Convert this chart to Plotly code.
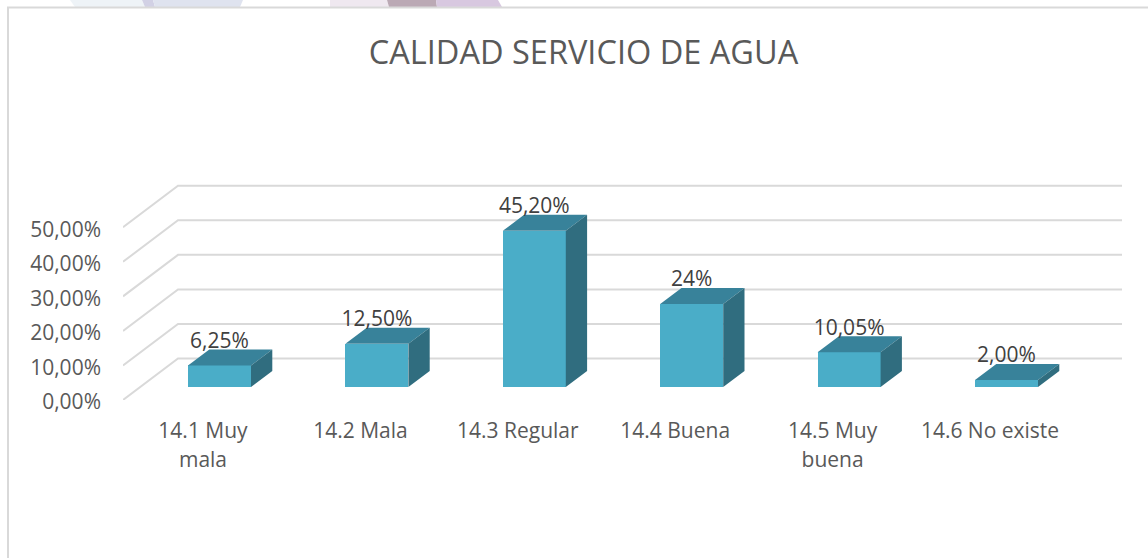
import plotly.graph_objects as go

categories = ["14.1 Muy|mala", "14.2 Mala", "14.3 Regular", "14.4 Buena", "14.5 Muy|buena", "14.6 No existe"]
values = [6.25, 12.5, 45.2, 24, 10.05, 2]
value_labels = ["6,25%", "12,50%", "45,20%", "24%", "10,05%", "2,00%"]
grid_values = [0, 10, 20, 30, 40, 50]
grid_labels = ["0,00%", "10,00%", "20,00%", "30,00%", "40,00%", "50,00%"]

W, H = 1148, 558
L, R, T, B = 123, 1122, 100, 400
PX_X = 157.4       # pixels per category
PX_Y = 3.455       # pixels per percentage point
XR = [(L - 203) / PX_X, (R - 203) / PX_X]
YR = [0, (B - T) / PX_Y]

FRONT, TOP_C, SIDE = "#4AADC8", "#38829A", "#306D7F"
GRID = "#D9D9D9"
TXT, LBL = "#595959", "#404040"
FS = 21

# 3-D projection, expressed in axis units
bar_shift = 16.5 / PX_X
bar_w = 63 / PX_X
bar_floor = 13 / PX_Y
dx, dy = 21.3 / PX_X, 16 / PX_Y
back_x, back_y = 55 / PX_X, 41.5 / PX_Y
label_gap = 23 / PX_Y

xs = list(range(len(values)))
fig = go.Figure()

# walls / gridlines
gx, gy = [], []
for v in grid_values:
    gx += [XR[0], XR[0] + back_x, XR[1], None]
    gy += [v, v + back_y, v + back_y, None]
fig.add_trace(go.Scatter(x=gx, y=gy, mode="lines", line=dict(color=GRID, width=2),
                         hoverinfo="skip", cliponaxis=False))

# front faces
fig.add_trace(go.Bar(x=[i + bar_shift for i in xs], y=values, base=bar_floor, width=bar_w,
                     marker=dict(color=FRONT, line=dict(width=0)),
                     xaxis="x2", yaxis="y2"))

# top and side faces
tx, ty, sx, sy = [], [], [], []
for i, v in zip(xs, values):
    x0 = i + bar_shift - bar_w / 2
    x1 = i + bar_shift + bar_w / 2
    y0 = bar_floor
    y1 = bar_floor + v
    tx += [x0, x0 + dx, x1 + dx, x1, x0, None]
    ty += [y1, y1 + dy, y1 + dy, y1, y1, None]
    sx += [x1, x1 + dx, x1 + dx, x1, x1, None]
    sy += [y1, y1 + dy, y0 + dy, y0, y1, None]
for fx, fy, col in ((tx, ty, TOP_C), (sx, sy, SIDE)):
    fig.add_trace(go.Scatter(x=fx, y=fy, mode="lines", fill="toself", fillcolor=col,
                             line=dict(width=0, color=col), hoverinfo="skip",
                             xaxis="x2", yaxis="y2"))

# data labels
fig.add_trace(go.Scatter(x=[i + bar_shift for i in xs],
                         y=[bar_floor + v + label_gap for v in values],
                         mode="text", text=value_labels, textposition="middle center",
                         textfont=dict(family="Open Sans", size=FS, color=LBL),
                         hoverinfo="skip", xaxis="x2", yaxis="y2", cliponaxis=False))


def span(s):
    return "<br>".join(f"<span style='font-size:{FS}px'>{p}</span>" for p in s.split("|"))


def hx(px):
    return (px - L) / (R - L)


def hy(py):
    return (B - py) / (B - T)


def poly(pts, col):
    path = "M " + " L ".join(f"{hx(x)} {hy(y)}" for x, y in pts) + " Z"
    return dict(type="path", xref="paper", yref="paper", path=path,
                fillcolor=col, line=dict(width=0), layer="below")


shapes = [
    poly([(70, 0), (142, 0), (145, 7), (75, 7)], "#EEF3F7"),
    poly([(142, 0), (153, 0), (155, 7), (145, 7)], "#D2D1E5"),
    poly([(153, 0), (243, 0), (240, 7), (155, 7)], "#DFE3EF"),
    poly([(330, 0), (387, 0), (389, 7), (330, 7)], "#EFE8F0"),
    poly([(387, 0), (436, 0), (437, 7), (389, 7)], "#BBA9B5"),
    poly([(436, 0), (498, 0), (502, 7), (437, 7)], "#D8C8E0"),
    dict(type="line", xref="paper", yref="paper", x0=hx(8), x1=hx(8), y0=hy(7.5), y1=hy(558),
         line=dict(color=GRID, width=2)),
    dict(type="line", xref="paper", yref="paper", x0=hx(7), x1=hx(1148), y0=hy(7.5), y1=hy(7.5),
         line=dict(color=GRID, width=2)),
]

fig.update_layout(
    width=W, height=H,
    margin=dict(l=L, r=W - R, t=T, b=H - B, pad=0),
    paper_bgcolor="white", plot_bgcolor="rgba(0,0,0,0)",
    showlegend=False, bargap=0,
    font=dict(family="Open Sans", color=TXT, size=FS),
    title=dict(text="CALIDAD SERVICIO DE AGUA", x=583.5 / W, xanchor="center",
               y=1 - 53 / H, yanchor="middle", yref="container",
               font=dict(family="Open Sans", size=32.5, color=TXT)),
    xaxis=dict(range=XR, tickmode="array", tickvals=xs, ticktext=[span(c) for c in categories],
               showgrid=False, zeroline=False, showline=False, ticks="",
               ticklabelstandoff=15, tickangle=0,
               tickfont=dict(family="Open Sans", size=22.3, color=TXT)),
    yaxis=dict(range=YR, tickmode="array", tickvals=grid_values, ticktext=grid_labels,
               showgrid=False, zeroline=False, showline=False, ticks="",
               ticklabelstandoff=21, ticklabelshift=2,
               tickfont=dict(family="Open Sans", size=FS, color=TXT)),
    xaxis2=dict(range=XR, overlaying="x", visible=False),
    yaxis2=dict(range=YR, overlaying="y", visible=False),
    shapes=shapes,
)

fig.write_html("out.html", config=dict(displayModeBar=False),
               post_script="document.body.style.margin='0';")
